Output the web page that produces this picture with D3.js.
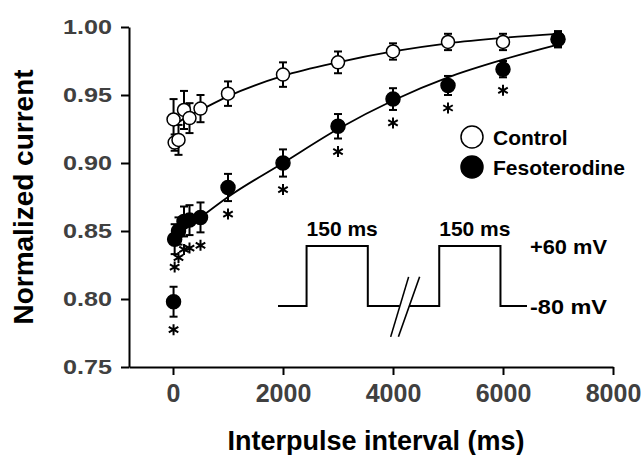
<!DOCTYPE html>
<html>
<head>
<meta charset="utf-8">
<script src="https://cdn.jsdelivr.net/npm/d3@7"></script>
<style>
  body { margin: 0; background: #fff; }
  text { font-family: "Liberation Sans", Arial, sans-serif; font-weight: bold; }
</style>
</head>
<body>
<div id="chart"></div>
<script>
//DATA
const intervals = [10, 30, 100, 200, 300, 500, 1000, 2000, 3000, 4000, 5000, 6000, 7000];
const controlMean = [0.932, 0.915, 0.917, 0.939, 0.933, 0.940, 0.951, 0.965, 0.974, 0.982, 0.989, 0.989, 0.991];
const controlErr = [0.015, 0.006, 0.011, 0.014, 0.011, 0.010, 0.009, 0.009, 0.008, 0.006, 0.006, 0.006, 0.006];
const fesoMean = [0.798, 0.844, 0.850, 0.857, 0.858, 0.860, 0.882, 0.900, 0.927, 0.947, 0.957, 0.969, 0.991];
const fesoErr = [0.011, 0.011, 0.010, 0.011, 0.011, 0.011, 0.010, 0.010, 0.009, 0.008, 0.007, 0.006, 0.005];
const fesoSig = [1, 1, 1, 1, 1, 1, 1, 1, 1, 1, 1, 1, 0];

// fitted curves
const fitX = [0, 100, 300, 500, 1000, 2000, 3000, 4000, 5000, 6000, 7000];
const controlFit = [0.927, 0.930, 0.935, 0.939, 0.949, 0.964, 0.974, 0.982, 0.988, 0.992, 0.995];
const fesoFit = [0.842, 0.847, 0.854, 0.860, 0.875, 0.900, 0.925, 0.946, 0.963, 0.976, 0.987];

const xTicks = [0, 2000, 4000, 6000, 8000];
const yTicks = [0.75, 0.80, 0.85, 0.90, 0.95, 1.00];

// stimulation protocol inset (schematic ms, mV)
const protoT = [0, 70, 70, 220, 220, 395, 395, 545, 545, 610];
const protoV = [-80, -80, 60, 60, -80, -80, 60, 60, -80, -80];
const breakGap = [298, 322];
const pulseLabels = ["150 ms", "150 ms"];
const levelLabels = ["+60 mV", "-80 mV"];
const levels = [60, -80];

//CONSTANTS
const width = 644, height = 455;
const margin = {top: 27, right: 31, bottom: 88, left: 129};

//SVG
const svg = d3.select("#chart")
  .append("svg")
  .attr("width", width)
  .attr("height", height);

//SCALES
const x = d3.scaleLinear().domain([-800, 8000]).range([margin.left, width - margin.right]);
const y = d3.scaleLinear().domain([0.75, 1.00]).range([height - margin.bottom, margin.top]);

//AXES
const xAxis = svg.append("g")
  .attr("transform", `translate(0,${y(0.75)})`)
  .call(d3.axisBottom(x).tickValues(xTicks).tickFormat(d3.format("d"))
    .tickSize(8).tickSizeOuter(0).tickPadding(9));

const yAxis = svg.append("g")
  .attr("transform", `translate(${x(-800)},0)`)
  .call(d3.axisLeft(y).tickValues(yTicks).tickFormat(d3.format(".2f"))
    .tickSize(8).tickSizeOuter(0).tickPadding(9));

[xAxis, yAxis].forEach(g => {
  g.selectAll("path, line").attr("stroke", "#000").attr("stroke-width", 2);
  g.selectAll("text").attr("fill", "#404040").attr("font-family", null);
});
xAxis.selectAll("text").attr("font-size", 25);
yAxis.selectAll("text").attr("font-size", 20)
  .attr("textLength", 49).attr("lengthAdjust", "spacingAndGlyphs");

//AXIS TITLES
svg.append("text")
  .attr("x", 376)
  .attr("y", 450)
  .attr("text-anchor", "middle")
  .attr("font-size", 27)
  .text("Interpulse interval (ms)");

svg.append("text")
  .attr("transform", "rotate(-90)")
  .attr("x", -(y(0.75) + y(1.00)) / 2)
  .attr("y", 33)
  .attr("text-anchor", "middle")
  .attr("font-size", 28)
  .text("Normalized current");

//CURVES
const line = d3.line().curve(d3.curveMonotoneX);
[controlFit, fesoFit].forEach(fit => {
  svg.append("path")
    .attr("d", line(fitX.map((t, i) => [x(t), y(fit[i])])))
    .attr("fill", "none")
    .attr("stroke", "#000")
    .attr("stroke-width", 1.8);
});

//POINTS
function drawSeries(mean, err, fill, r) {
  const data = intervals.map((t, i) => ({t: t, v: mean[i], e: err[i]}));
  const g = svg.append("g");
  const bars = g.selectAll(".bar").data(data).join("g").attr("stroke", "#000").attr("stroke-width", 2);
  bars.append("line")
    .attr("x1", d => x(d.t)).attr("x2", d => x(d.t))
    .attr("y1", d => y(d.v - d.e)).attr("y2", d => y(d.v + d.e));
  bars.append("line")
    .attr("x1", d => x(d.t) - 4).attr("x2", d => x(d.t) + 4)
    .attr("y1", d => y(d.v + d.e)).attr("y2", d => y(d.v + d.e));
  bars.append("line")
    .attr("x1", d => x(d.t) - 4).attr("x2", d => x(d.t) + 4)
    .attr("y1", d => y(d.v - d.e)).attr("y2", d => y(d.v - d.e));
  g.selectAll("circle").data(data).join("circle")
    .attr("cx", d => x(d.t))
    .attr("cy", d => y(d.v))
    .attr("r", r)
    .attr("fill", fill)
    .attr("stroke", "#000")
    .attr("stroke-width", 1.5);
  return data;
}
drawSeries(controlMean, controlErr, "#fff", 6.5);
const fesoData = drawSeries(fesoMean, fesoErr, "#000", 7);

//ASTERISKS
svg.selectAll(".star")
  .data(fesoData.filter((d, i) => fesoSig[i]))
  .join("path")
  .attr("transform", d => `translate(${x(d.t)},${y(d.v - d.e) + 13})`)
  .attr("d", d3.symbol(d3.symbolAsterisk, 85))
  .attr("fill", "none")
  .attr("stroke", "#000")
  .attr("stroke-width", 2);

//LEGEND
const legend = svg.append("g").attr("transform", "translate(472,137)");
[["Control", "#fff"], ["Fesoterodine", "#000"]].forEach((d, i) => {
  legend.append("circle")
    .attr("cx", 0).attr("cy", i * 30).attr("r", 11)
    .attr("fill", d[1]).attr("stroke", "#000").attr("stroke-width", 1.5);
  legend.append("text")
    .attr("x", 21).attr("y", i * 30 + 7.5)
    .attr("font-size", 21)
    .text(d[0]);
});

//PROTOCOL INSET
const px = d3.scaleLinear().domain([0, 610]).range([278, 527]);
const pv = d3.scaleLinear().domain([-80, 60]).range([306, 246]);
const inset = svg.append("g")
  .attr("fill", "none")
  .attr("stroke", "#000")
  .attr("stroke-width", 2);
const proto = protoT.map((t, i) => [t, protoV[i]]);
const leftPart = proto.filter(d => d[0] <= breakGap[0]).concat([[breakGap[0], -80]]);
const rightPart = [[breakGap[1], -80]].concat(proto.filter(d => d[0] >= breakGap[1]));
[leftPart, rightPart].forEach(part => {
  inset.append("path").attr("d", d3.line()(part.map(d => [px(d[0]), pv(d[1])])));
});
// break marks
[[276, 320], [295, 347]].forEach(s => {
  inset.append("line")
    .attr("x1", px(s[0])).attr("y1", pv(-152))
    .attr("x2", px(s[1])).attr("y2", pv(-12))
    .attr("stroke-width", 1.6);
});

[[70, 220], [395, 545]].forEach((p, i) => {
  svg.append("text")
    .attr("x", (px(p[0]) + px(p[1])) / 2 + 5)
    .attr("y", 236)
    .attr("text-anchor", "middle")
    .attr("font-size", 21)
    .text(pulseLabels[i]);
});

levels.forEach((v, i) => {
  svg.append("text")
    .attr("x", 530)
    .attr("y", pv(v) + 7.5)
    .attr("font-size", 20)
    .attr("textLength", 77)
    .attr("lengthAdjust", "spacingAndGlyphs")
    .text(levelLabels[i]);
});
</script>
</body>
</html>
